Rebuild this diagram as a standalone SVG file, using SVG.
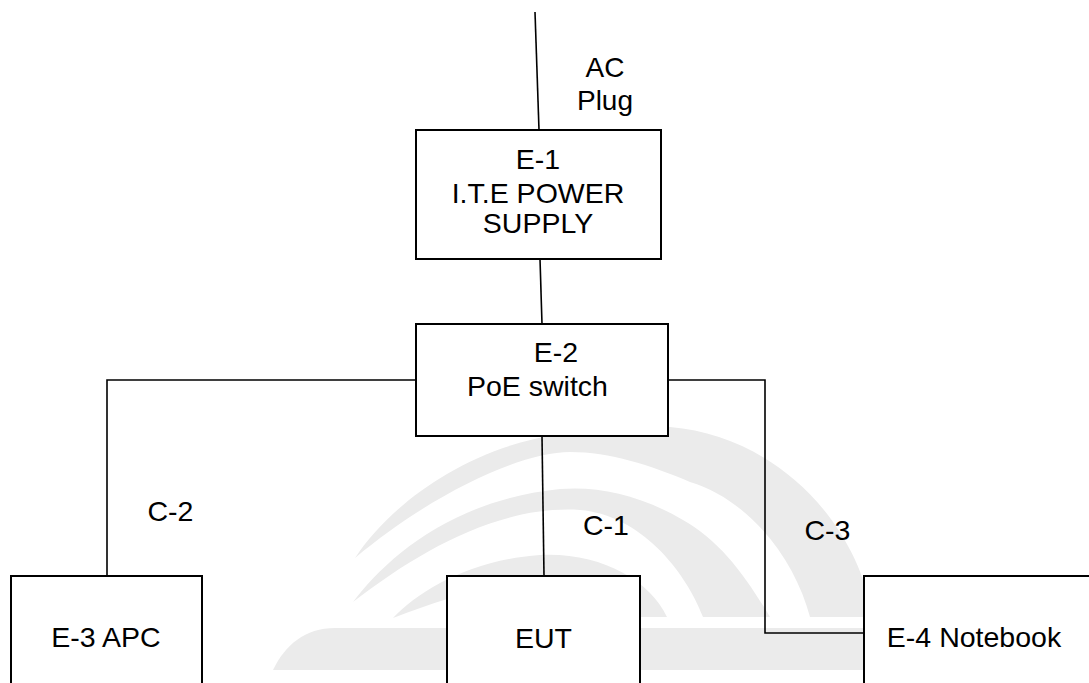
<svg xmlns="http://www.w3.org/2000/svg" width="1089" height="683" viewBox="0 0 1089 683">
<style>
.wm{fill:#ebebeb;stroke:none}
.box{fill:#ffffff;stroke:#000;stroke-width:2}
.ln{fill:none;stroke:#000;stroke-width:1.6}
text{font-family:"Liberation Sans",Arial,sans-serif;font-size:28.5px;fill:#000;text-anchor:middle}
.ac{font-size:28px}
</style>
<rect x="0" y="0" width="1089" height="683" fill="#ffffff"/>
<g id="watermark">
<path class="wm" d="M355,558 C390,505 465,448 560,434 C610,426 640,425 670,427 C770,435 855,515 873,617 L810,617 C795,560 750,500 690,482 C650,465 610,452 570,452 C520,452 430,495 355,558 Z"/>
<path class="wm" d="M353,602 C385,560 450,500 560,489 C600,486 640,495 683,520 C720,541 745,575 770,617 L703,617 C685,570 640,515 580,510 C500,505 420,550 353,602 Z"/>
<path class="wm" d="M393,618 C420,590 470,560 540,555 C600,552 650,580 667,617 L615,617 C600,595 575,583 545,583 C490,583 440,600 393,618 Z"/>
<path class="wm" d="M273,670 C285,645 305,628 335,628 L864,628 L864,670 Z"/>
</g>
<g id="connectors">
<path class="ln" d="M535,12 L539,130"/>
<path class="ln" d="M540,259 L542,324"/>
<path class="ln" d="M416,380 H107 V576"/>
<path class="ln" d="M668,380 H765 V633 H864"/>
<path class="ln" d="M542,436 L544,576"/>
</g>
<g id="label-ac">
<text class="ac" x="605" y="77">AC</text>
<text class="ac" x="605" y="110">Plug</text>
</g>
<g id="E-1">
<rect class="box" x="416" y="130" width="245" height="129"/>
<text x="538" y="169">E-1<tspan x="538" dy="34">I.T.E POWER</tspan><tspan x="538" dy="30">SUPPLY</tspan></text>
</g>
<g id="E-2">
<rect class="box" x="416" y="324" width="252" height="112"/>
<text x="556" y="362">E-2</text>
<text x="537.5" y="396">PoE switch</text>
</g>
<g id="E-3">
<rect class="box" x="11" y="576" width="191" height="130"/>
<text x="106" y="647">E-3 APC</text>
</g>
<g id="EUT">
<rect class="box" x="447" y="576" width="193" height="130"/>
<text x="543.5" y="648">EUT</text>
</g>
<g id="E-4">
<rect class="box" x="864" y="576" width="240" height="130"/>
<text x="974" y="647">E-4 Notebook</text>
</g>
<g id="cable-labels">
<text x="170.5" y="521">C-2</text>
<text x="606" y="535">C-1</text>
<text x="827.5" y="540">C-3</text>
</g>
</svg>
